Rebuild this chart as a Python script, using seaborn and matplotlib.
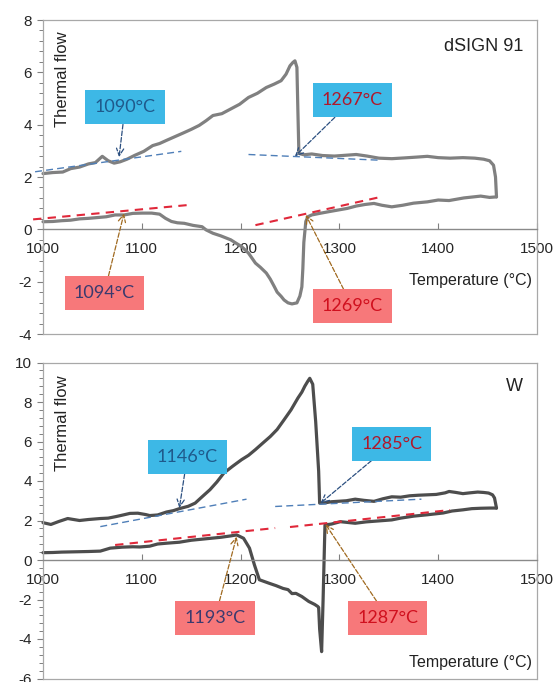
import matplotlib
matplotlib.use("Agg")
import matplotlib.pyplot as plt
from matplotlib.ticker import MultipleLocator, AutoMinorLocator
import seaborn as sns

# ---- dSIGN 91 (top) ----
d91_heat_t = [1000, 1010, 1020, 1028, 1037, 1046, 1053, 1060, 1066, 1072, 1078, 1085, 1093,
              1102, 1111, 1118, 1125, 1134, 1143, 1150, 1158, 1165, 1172, 1181, 1190, 1199,
              1208, 1217, 1226, 1234, 1241, 1246, 1250, 1253, 1255, 1257, 1258, 1259, 1264,
              1272, 1283, 1295, 1306, 1317, 1328, 1340, 1353, 1366, 1378, 1389, 1400, 1412,
              1425, 1437, 1446, 1452, 1456, 1458, 1459]
d91_heat_f = [2.13, 2.17, 2.19, 2.32, 2.38, 2.50, 2.55, 2.79, 2.62, 2.53, 2.58, 2.68, 2.83,
              2.98, 3.20, 3.28, 3.40, 3.55, 3.70, 3.82, 3.97, 4.15, 4.35, 4.42, 4.60, 4.78,
              5.04, 5.20, 5.42, 5.55, 5.68, 5.93, 6.25, 6.38, 6.44, 6.19, 4.50, 2.90, 2.85,
              2.88, 2.82, 2.80, 2.83, 2.86, 2.80, 2.72, 2.70, 2.73, 2.76, 2.79, 2.74, 2.72,
              2.74, 2.72, 2.68, 2.62, 2.45, 2.00, 1.24]
d91_cool_t = [1459, 1452, 1443, 1426, 1411, 1400, 1389, 1375, 1364, 1353, 1343, 1335, 1326,
              1317, 1308, 1299, 1290, 1280, 1272, 1268, 1266, 1264, 1263, 1262, 1260, 1257,
              1252, 1248, 1244, 1241, 1237, 1234, 1230, 1226, 1220, 1215, 1208, 1201, 1195,
              1190, 1180, 1172, 1165, 1161, 1152, 1143, 1136, 1130, 1124, 1118, 1110, 1100,
              1091, 1082, 1073, 1064, 1055, 1046, 1037, 1028, 1019, 1010, 1000]
d91_cool_f = [1.24, 1.22, 1.27, 1.20, 1.10, 1.12, 1.05, 1.00, 0.92, 0.86, 0.92, 0.99, 0.95,
              0.89, 0.80, 0.74, 0.68, 0.61, 0.55, 0.48, 0.30, -0.50, -1.50, -2.20, -2.55,
              -2.81, -2.85, -2.81, -2.70, -2.56, -2.40, -2.18, -1.90, -1.67, -1.45, -1.29,
              -0.91, -0.66, -0.52, -0.40, -0.25, -0.15, -0.02, 0.10, 0.15, 0.23, 0.25, 0.30,
              0.42, 0.58, 0.62, 0.62, 0.61, 0.55, 0.55, 0.48, 0.45, 0.42, 0.40, 0.35, 0.33,
              0.30, 0.29]
d91_blue_tangents = [([992, 1140], [2.20, 2.98]), ([1208, 1342], [2.86, 2.64])]
d91_red_tangents = [([990, 1150], [0.38, 0.94]), ([1215, 1342], [0.16, 1.24])]

# ---- W (bottom) ----
w_heat_t = [1000, 1008, 1016, 1025, 1037, 1046, 1058, 1066, 1074, 1082, 1088, 1096, 1104,
            1108, 1116, 1125, 1132, 1138, 1147, 1154, 1161, 1169, 1176, 1183, 1192, 1201,
            1208, 1215, 1222, 1230, 1237, 1244, 1251, 1258, 1262, 1265, 1268, 1270, 1273,
            1276, 1279, 1280, 1286, 1292, 1298, 1307, 1316, 1325, 1335, 1344, 1353, 1362,
            1371, 1380, 1389, 1398, 1407, 1411, 1418, 1425, 1432, 1440, 1446, 1451, 1455,
            1457, 1459]
w_heat_f = [1.89, 1.80, 1.95, 2.10, 2.00, 2.05, 2.10, 2.12, 2.20, 2.29, 2.36, 2.37, 2.30,
            2.25, 2.28, 2.43, 2.50, 2.60, 2.72, 2.88, 3.20, 3.56, 3.95, 4.40, 4.75, 5.08,
            5.30, 5.59, 5.90, 6.25, 6.61, 7.10, 7.60, 8.20, 8.50, 8.80, 9.05, 9.20, 8.90,
            7.00, 4.50, 2.88, 2.90, 2.95, 2.97, 3.00, 3.08, 3.02, 2.97, 3.10, 3.20, 3.18,
            3.25, 3.28, 3.30, 3.32, 3.40, 3.47, 3.42, 3.36, 3.40, 3.44, 3.42, 3.39, 3.30,
            3.14, 2.63]
w_cool_t = [1459, 1452, 1443, 1434, 1425, 1414, 1405, 1389, 1375, 1362, 1353, 1340, 1327,
            1316, 1301, 1292, 1286, 1285.4, 1285, 1283.5, 1282, 1280, 1279, 1278, 1275,
            1269, 1262, 1256, 1252, 1248, 1243, 1236, 1229, 1219, 1214, 1209, 1203, 1196,
            1190, 1180, 1170, 1160, 1150, 1138, 1125, 1116, 1108, 1098, 1091, 1080, 1068,
            1058, 1046, 1037, 1028, 1019, 1010, 1000]
w_cool_f = [2.63, 2.63, 2.62, 2.60, 2.54, 2.48, 2.38, 2.29, 2.22, 2.12, 2.03, 1.98, 1.93,
            1.86, 1.94, 1.82, 1.78, 1.77, 1.00, -2.00, -4.64, -3.50, -2.40, -2.35, -2.25,
            -2.10, -1.85, -1.69, -1.70, -1.50, -1.44, -1.30, -1.18, -1.00, -0.25, 0.60,
            1.10, 1.27, 1.22, 1.15, 1.10, 1.05, 1.00, 0.90, 0.85, 0.81, 0.70, 0.66, 0.67,
            0.65, 0.60, 0.45, 0.43, 0.42, 0.41, 0.40, 0.38, 0.37]
w_blue_tangents = [([1058, 1206], [1.69, 3.08]), ([1235, 1383], [2.71, 3.08])]
w_red_tangents = [([1073, 1235], [0.76, 1.62]), ([1250, 1412], [1.67, 2.53])]

# onset labels: (text, box centre, arrow target, box kind)
d91_tags = [("1090°C", (1083, 4.66), (1077, 2.76), "heat_blue"),
            ("1267°C", (1313, 4.93), (1255, 2.79), "heat_red"),
            ("1094°C", (1062, -2.43), (1082, 0.61), "cool_blue"),
            ("1269°C", (1313, -2.94), (1266, 0.55), "cool_red")]
w_tags = [("1146°C", (1146, 5.21), (1138, 2.63), "heat_blue"),
          ("1285°C", (1353, 5.89), (1281, 2.88), "heat_red"),
          ("1193°C", (1174, -2.94), (1196, 1.19), "cool_blue"),
          ("1287°C", (1349, -2.94), (1286, 1.81), "cool_red")]

BLUE_BOX = "#3db8e6"
RED_BOX = "#f7787a"
styles = {
    "heat_blue": (BLUE_BOX, "#1f5a8c", "#2b4f80"),
    "heat_red": (BLUE_BOX, "#b0182a", "#2b4f80"),
    "cool_blue": (RED_BOX, "#3a3a6e", "#a06a20"),
    "cool_red": (RED_BOX, "#d0101e", "#a06a20"),
}

sns.set_style("white")
plt.rcParams['font.family'] = ['Liberation Sans', 'DejaVu Sans']
plt.rcParams['axes.unicode_minus'] = False

fig = plt.figure(figsize=(5.59, 6.82), dpi=100)
ax1 = fig.add_axes([43 / 559, 1 - 334 / 682, 494 / 559, 314 / 682])
ax2 = fig.add_axes([43 / 559, 1 - 678.5 / 682, 494 / 559, 316 / 682])


def draw_panel(ax, heat, cool, blues, reds, tags, ylim, curve_color, name, name_y,
               ylab_y, xlab_y):
    for t, f in (heat, cool):
        sns.lineplot(x=t, y=f, sort=False, estimator=None, color=curve_color, lw=2.3,
                     ax=ax)
    for t, f in blues:
        sns.lineplot(x=t, y=f, sort=False, color="#4f7fb8", lw=1.0, ls=(0, (5, 3)),
                     ax=ax)
    for t, f in reds:
        sns.lineplot(x=t, y=f, sort=False, color="#e0283a", lw=1.5, ls=(0, (4, 3)),
                     ax=ax)
    for line in ax.lines:
        line.set_clip_on(False)

    for text, box, target, kind in tags:
        fc, tc, ac = styles[kind]
        ax.annotate(text, xy=target, xytext=box, ha="center", va="center",
                    fontsize=13, family=["Lato", "DejaVu Sans"], color=tc,
                    bbox=dict(boxstyle="square,pad=0.5", fc=fc, ec="none"),
                    arrowprops=dict(arrowstyle="->", color=ac, lw=0.9, ls="--",
                                    shrinkA=0, shrinkB=0))

    ax.set_xlim(1000, 1500)
    ax.set_ylim(*ylim)
    ax.xaxis.set_major_locator(MultipleLocator(100))
    ax.yaxis.set_major_locator(MultipleLocator(2))
    ax.yaxis.set_minor_locator(AutoMinorLocator(5))

    for side in ("top", "right", "left"):
        ax.spines[side].set_color("#a8a8a8")
        ax.spines[side].set_linewidth(0.9)
    ax.spines["bottom"].set_position(("data", 0))
    ax.spines["bottom"].set_color("#8a8a8a")
    ax.spines["bottom"].set_linewidth(1.0)
    ax.plot([0, 1], [0, 0], transform=ax.transAxes, color="#a8a8a8", lw=0.9,
            clip_on=False)

    ax.tick_params(axis="y", which="major", direction="out", length=4, width=0.8,
                   color="#808080", labelsize=11, pad=4, left=True)
    ax.tick_params(axis="y", which="minor", direction="out", length=3, width=0.7,
                   color="#808080", left=True)
    ax.tick_params(axis="x", which="major", direction="in", length=4, width=0.8,
                   color="#808080", labelsize=11, pad=9, bottom=True)
    ax.set_xlabel("")
    ax.set_ylabel("")

    ax.text(1486, name_y, name, ha="right", va="center", fontsize=13, color="#222222")
    ax.text(1495, xlab_y, "Temperature (°C)", ha="right", va="center", fontsize=11.5,
            color="#222222")
    ax.text(1020, ylab_y, "Thermal flow", rotation=90, ha="center", va="center",
            fontsize=12, color="#222222")


draw_panel(ax1, (d91_heat_t, d91_heat_f), (d91_cool_t, d91_cool_f),
           d91_blue_tangents, d91_red_tangents, d91_tags, (-4, 8), "#808080",
           "dSIGN 91", 7.0, 5.75, -1.94)
draw_panel(ax2, (w_heat_t, w_heat_f), (w_cool_t, w_cool_f),
           w_blue_tangents, w_red_tangents, w_tags, (-6, 10), "#4d4d4d",
           "W", 8.81, 6.95, -5.17)

fig.savefig("out.png", dpi=100)
